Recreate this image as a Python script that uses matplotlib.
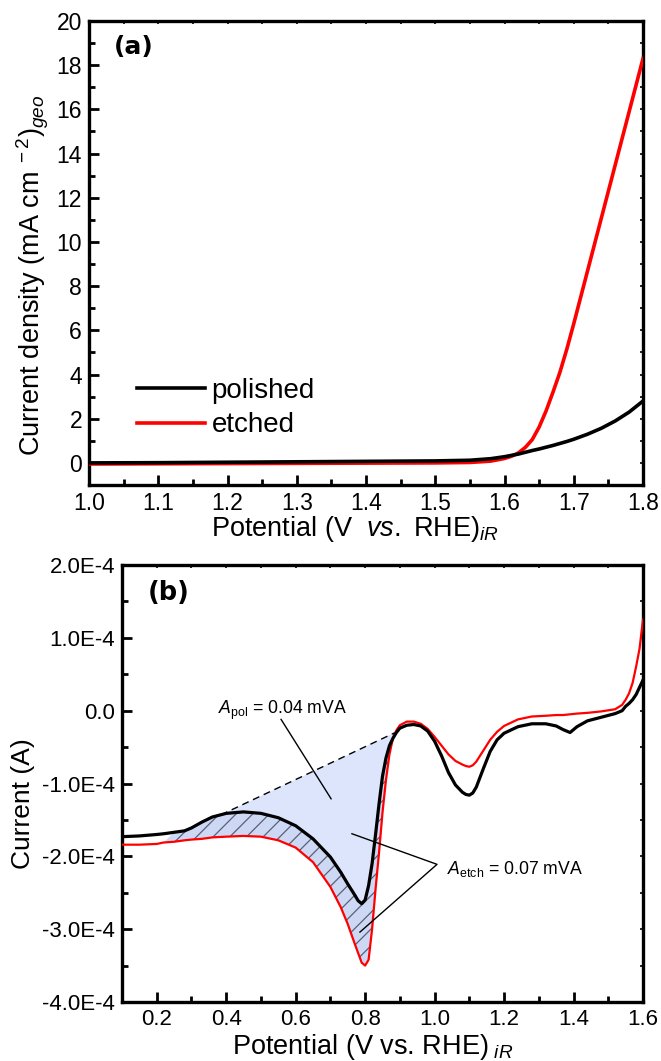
import numpy as np
import matplotlib
matplotlib.use("Agg")
import matplotlib.pyplot as plt
from matplotlib.ticker import MultipleLocator, FuncFormatter

plt.rcParams['font.family'] = ['Liberation Sans', 'DejaVu Sans']
plt.rcParams['mathtext.fontset'] = 'custom'
plt.rcParams['mathtext.rm'] = 'Liberation Sans'
plt.rcParams['mathtext.it'] = 'Liberation Sans:italic'
plt.rcParams['mathtext.bf'] = 'Liberation Sans:bold'
plt.rcParams['hatch.linewidth'] = 0.9

# ---------------- Panel (a) data: LSV ----------------
pot_a = [1.00, 1.10, 1.20, 1.30, 1.40, 1.50, 1.55, 1.58, 1.60, 1.61, 1.62, 1.63, 1.64,
         1.65, 1.66, 1.67, 1.68, 1.69, 1.70, 1.72, 1.74, 1.76, 1.78, 1.80]
j_polished = [0.00, 0.01, 0.03, 0.05, 0.07, 0.09, 0.12, 0.19, 0.28, 0.34, 0.40, 0.48, 0.56,
              0.63, 0.71, 0.79, 0.88, 0.97, 1.07, 1.30, 1.57, 1.90, 2.30, 2.80]
j_etched = [-0.05, -0.04, -0.03, -0.02, -0.01, 0.00, 0.02, 0.08, 0.20, 0.30, 0.45, 0.70,
            1.05, 1.62, 2.35, 3.20, 4.10, 5.15, 6.30, 8.70, 11.10, 13.50, 15.90, 18.30]

# ---------------- Panel (b) data: CV (units of 1e-4 A) ----------------
pot_b = [0.10, 0.15, 0.20, 0.22, 0.25, 0.28, 0.30, 0.33, 0.36, 0.40, 0.45, 0.50, 0.55,
         0.60, 0.65, 0.70, 0.73, 0.75, 0.77, 0.78, 0.79, 0.80, 0.81, 0.82, 0.83, 0.84,
         0.85, 0.86, 0.87, 0.88, 0.89, 0.90, 0.92, 0.94, 0.96, 0.98, 1.00, 1.02, 1.04,
         1.06, 1.08, 1.09, 1.10, 1.11, 1.12, 1.14, 1.16, 1.18, 1.20, 1.24, 1.28, 1.32,
         1.35, 1.37, 1.39, 1.41, 1.44, 1.48, 1.52, 1.54, 1.55, 1.56, 1.57, 1.58, 1.59,
         1.60]
i_polished = [-1.73, -1.72, -1.70, -1.69, -1.67, -1.65, -1.61, -1.53, -1.46, -1.41, -1.39,
              -1.41, -1.47, -1.58, -1.76, -2.01, -2.22, -2.38, -2.53, -2.61, -2.65, -2.60,
              -2.40, -2.10, -1.70, -1.28, -0.90, -0.65, -0.48, -0.38, -0.30, -0.24, -0.20,
              -0.19, -0.21, -0.28, -0.42, -0.62, -0.85, -1.02, -1.12, -1.15, -1.16, -1.13,
              -1.05, -0.80, -0.56, -0.40, -0.31, -0.22, -0.18, -0.18, -0.21, -0.26, -0.30,
              -0.22, -0.14, -0.09, -0.04, 0.00, 0.06, 0.10, 0.15, 0.22, 0.32, 0.42]
i_etched = [-1.84, -1.84, -1.83, -1.81, -1.80, -1.78, -1.77, -1.76, -1.74, -1.73, -1.72,
            -1.73, -1.78, -1.88, -2.08, -2.42, -2.70, -2.93, -3.20, -3.33, -3.46, -3.50,
            -3.42, -3.00, -2.45, -1.95, -1.40, -0.95, -0.60, -0.38, -0.27, -0.20, -0.15,
            -0.15, -0.18, -0.25, -0.36, -0.48, -0.60, -0.69, -0.74, -0.76, -0.77, -0.75,
            -0.70, -0.55, -0.40, -0.29, -0.21, -0.12, -0.08, -0.07, -0.06, -0.06, -0.05,
            -0.04, -0.03, -0.01, 0.02, 0.08, 0.15, 0.24, 0.38, 0.60, 0.85, 1.25]
scale_b = 1e-4

# baseline for the polished-area construction (dashed line endpoints)
base_start = (0.385, -1.43)
base_end = (0.90, -0.27)
hatch_start = 0.23

fig = plt.figure(figsize=(6.61, 10.61), dpi=100)

# ================= Panel (a) =================
ax1 = fig.add_axes([89/661, 1-485/1061, 554/661, 464/1061])
l_et, = ax1.plot(pot_a, j_etched, color='#ff0000', lw=2.6, label='etched', zorder=3)
l_po, = ax1.plot(pot_a, j_polished, color='black', lw=2.6, label='polished', zorder=4)
ax1.set_xlim(1.0, 1.8)
ax1.set_ylim(-1, 20)
ax1.xaxis.set_major_locator(MultipleLocator(0.1))
ax1.xaxis.set_minor_locator(MultipleLocator(0.05))
ax1.yaxis.set_major_locator(MultipleLocator(2))
ax1.yaxis.set_minor_locator(MultipleLocator(1))
ax1.xaxis.set_major_formatter(FuncFormatter(lambda v, p: f"{v:.1f}"))
ax1.yaxis.set_major_formatter(FuncFormatter(lambda v, p: f"{v:.0f}"))

ax1.legend([l_po, l_et], ['polished', 'etched'], loc='center left',
           bbox_to_anchor=(0.086, 0.166), frameon=False, fontsize=20,
           handlelength=2.45, handletextpad=0.25, labelspacing=0.32,
           borderpad=0, borderaxespad=0)

ax1.set_ylabel(r'Current density (mA cm$^{\ -2}$)$_{geo}$', fontsize=19.5)
ax1.yaxis.set_label_coords(-0.068, 0.452)
ax1.set_xlabel(r'Potential (V  $\mathit{vs.}$ RHE)$_{\mathit{iR}}$', fontsize=19.5)
ax1.xaxis.set_label_coords(0.48, -0.062)
ax1.text(0.045, 0.944, '(a)', transform=ax1.transAxes, fontsize=18,
         fontweight='bold', family='DejaVu Sans', ha='left', va='center')

# ================= Panel (b) =================
ax2 = fig.add_axes([122/661, 1-1002/1061, 521/661, 437/1061])
x = np.array(pot_b)
ip = np.array(i_polished) * scale_b
ie = np.array(i_etched) * scale_b

# dashed baseline and polished area
bx = np.array([base_start[0], base_end[0]])
by = np.array([base_start[1], base_end[1]]) * scale_b
xf = np.concatenate([[base_start[0]], x[(x > base_start[0]) & (x < base_end[0])], [base_end[0]]])
ipf = np.interp(xf, x, ip)
lin = np.interp(xf, bx, by)
ax2.fill_between(xf, ipf, lin, where=ipf <= lin, facecolor='#dce5fb',
                 edgecolor='none', lw=0, zorder=1, interpolate=True)

# hatched etched extra area
mask = (x >= hatch_start) & (ip >= ie) & (x <= 0.885)
ax2.fill_between(x, ie, ip, where=mask, facecolor='#cdd8f5', edgecolor='#5a6075',
                 hatch='//', lw=0, zorder=1, interpolate=True)

ax2.plot(bx, by, color='black', lw=1.0, ls=(0, (5, 3.5)), zorder=2)
ax2.plot(x, ie, color='#ff0000', lw=1.6, zorder=3)
ax2.plot(x, ip, color='black', lw=2.3, zorder=4)

ax2.set_xlim(0.1, 1.6)
ax2.set_ylim(-4e-4, 2e-4)
ax2.xaxis.set_major_locator(MultipleLocator(0.2))
ax2.xaxis.set_minor_locator(MultipleLocator(0.1))
ax2.yaxis.set_major_locator(MultipleLocator(1e-4))
ax2.yaxis.set_minor_locator(MultipleLocator(0.5e-4))
ax2.xaxis.set_major_formatter(FuncFormatter(lambda v, p: f"{v:.1f}"))


def efmt(v, p):
    if abs(v) < 1e-12:
        return "0.0"
    return f"{v/1e-4:.1f}E-4"


ax2.yaxis.set_major_formatter(FuncFormatter(efmt))

ax2.set_ylabel('Current (A)', fontsize=19)
ax2.yaxis.set_label_coords(-0.167, 0.453)
ax2.set_xlabel(r'Potential (V vs. RHE)$_{\ \mathit{iR}}$', fontsize=19.5)
ax2.xaxis.set_label_coords(0.48, -0.068)
ax2.text(0.05, 0.936, '(b)', transform=ax2.transAxes, fontsize=18.5,
         fontweight='bold', family='DejaVu Sans', ha='left', va='center')

# annotations
ax2.text(0.376, 0.0, r'$\mathit{A}_{\mathrm{pol}}$ = 0.04 mVA', fontsize=12.7,
         ha='left', va='center')
ax2.plot([0.558, 0.702], [-0.12e-4, -1.21e-4], color='black', lw=1.0, zorder=5)
ax2.text(1.036, -2.17e-4, r'$\mathit{A}_{\mathrm{etch}}$ = 0.07 mVA', fontsize=12.7,
         ha='left', va='center')
ax2.plot([0.762, 1.007, 0.785], [-1.69e-4, -2.11e-4, -3.04e-4], color='black',
         lw=1.0, zorder=5)

# common styling
for ax, fs in ((ax1, 16.5), (ax2, 16)):
    for s in ax.spines.values():
        s.set_linewidth(2.4)
    ax.tick_params(which='major', direction='in', length=7.5, width=2.0,
                   labelsize=fs, top=True, right=True)
    ax.tick_params(which='minor', direction='in', length=4, width=2.0,
                   top=True, right=True)
    ax.tick_params(axis='y', which='major', pad=5)
    ax.tick_params(axis='x', which='major', pad=5)
    # small outward ticks on the top and right sides
    for tick in (ax.xaxis.get_major_ticks() + ax.xaxis.get_minor_ticks() +
                 ax.yaxis.get_major_ticks() + ax.yaxis.get_minor_ticks()):
        tick.tick2line.set_markersize(2.5)
        tick.tick2line.set_markeredgewidth(1.2)

fig.savefig('out.png', dpi=100)
